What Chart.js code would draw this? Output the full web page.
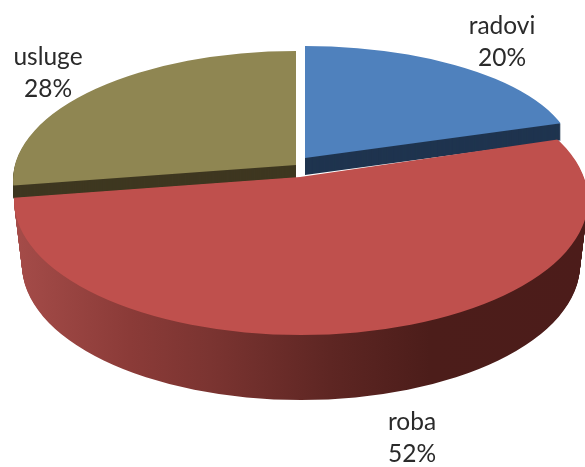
<!DOCTYPE html>
<html><head><meta charset="utf-8">
<style>html,body{margin:0;padding:0;background:#fff}#w{position:relative;width:585px;height:467px;overflow:hidden}</style>
<script src="https://cdn.jsdelivr.net/npm/chart.js@4"></script>
</head><body><div id="w"><canvas id="c" width="585" height="467"></canvas></div>
<script>
const categories = ['radovi', 'roba', 'usluge'];
const shares = [20, 52, 28];
const topColors = ['#4f81bd', '#bf504d', '#8f8652'];
const wallColors = ['#1f344f', null, '#3e3720'];
const labelAnchors = [[502, 34], [412, 430], [48, 65]];
// 3D look of each slice: disc ellipse, apex of the wedge, how its two edges are foreshortened, wall depth
const looks = [
  {cx: 305, cy: 158, rx: 269, ry: 112, ax: 305, ay: 158, edgeStart: [269, 112], edgeEnd: [269, 112], depth: 17, shrinkX: 0},
  {cx: 301, cy: 200, rx: 287, ry: 135, ax: 300, ay: 177, edgeStart: [274, 123], edgeEnd: [289, 110], depth: 65, shrinkX: 8},
  {cx: 296, cy: 180, rx: 283, ry: 129, ax: 296, ay: 165, edgeStart: [288, 110], edgeEnd: [288, 114], depth: 13, shrinkX: 0}
];
const drawOrder = [0, 2, 1];
const wallStops = [[14, '#a54c49'], [130, '#8b3b38'], [210, '#7b3431'], [330, '#5e2623'], [430, '#4c1d1a'], [585, '#4c1c1a']];

const pie3d = {
  id: 'pie3d',
  beforeDatasetDraw(chart) {
    const ctx = chart.ctx, arcs = chart.getDatasetMeta(0).data;
    const sector = (arc, L, dy) => {
      const a0 = arc.startAngle, a1 = arc.endAngle, n = 24;
      ctx.beginPath();
      ctx.moveTo(L.ax, L.ay + dy);
      for (let k = 0; k <= n; k++) {
        const t = k / n, a = a0 + (a1 - a0) * t;
        const e = t < 0.5 ? L.edgeStart : L.edgeEnd;
        ctx.lineTo(L.ax + 3 * e[0] * Math.cos(a), L.ay + dy + 3 * e[1] * Math.sin(a));
      }
      ctx.closePath();
      ctx.clip();
    };
    const paint = (arc, L, d, fill) => {
      const t = d / L.depth, R = arc.outerRadius;
      const sx = (L.rx - L.shrinkX * t) / R, sy = L.ry / R;
      ctx.save();
      sector(arc, L, d);
      ctx.transform(sx, 0, 0, sy, L.cx, L.cy + d);
      ctx.translate(-arc.x, -arc.y);
      let f = fill;
      if (fill === 'wall') {
        const toLocal = X => arc.x + (X - L.cx) / sx;
        f = ctx.createLinearGradient(toLocal(14), 0, toLocal(585), 0);
        wallStops.forEach(([X, col]) => f.addColorStop((X - 14) / 571, col));
      }
      const keep = {o: arc.options, s: arc.startAngle, e: arc.endAngle, c: arc.circumference};
      arc.options = Object.assign({}, keep.o, {backgroundColor: f, borderWidth: 0});
      arc.startAngle = 0; arc.endAngle = Math.PI * 2; arc.circumference = Math.PI * 2;
      arc.draw(ctx);
      arc.options = keep.o; arc.startAngle = keep.s; arc.endAngle = keep.e; arc.circumference = keep.c;
      ctx.restore();
    };
    drawOrder.forEach(i => {
      const L = looks[i], arc = arcs[i];
      for (let d = L.depth; d >= 1; d--) paint(arc, L, d, wallColors[i] || 'wall');
      paint(arc, L, 0, topColors[i]);
    });
    ctx.save();
    ctx.fillStyle = '#2a2a2a';
    ctx.font = '24.5px Lato';
    ctx.textAlign = 'center';
    ctx.textBaseline = 'alphabetic';
    categories.forEach((name, i) => {
      const [x, y] = labelAnchors[i];
      ctx.fillText(name, x, y);
      ctx.fillText(shares[i] + '%', x, y + 32);
    });
    ctx.restore();
    return false;
  }
};

new Chart(document.getElementById('c'), {
  type: 'pie',
  data: {labels: categories, datasets: [{data: shares, backgroundColor: topColors, borderWidth: 0}]},
  options: {
    responsive: false, animation: false,
    layout: {padding: 0},
    plugins: {legend: {display: false}, tooltip: {enabled: false}}
  },
  plugins: [pie3d]
});
</script></body></html>
